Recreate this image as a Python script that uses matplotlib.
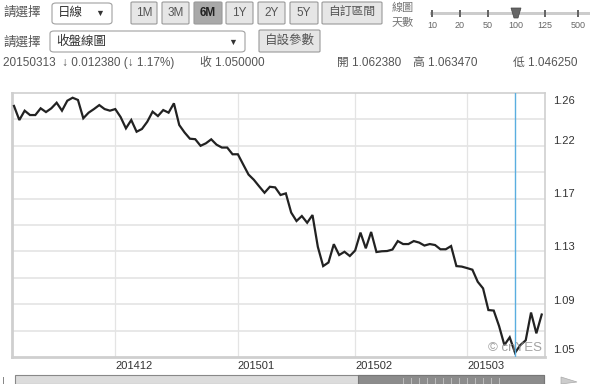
import matplotlib.pyplot as plt
import numpy as np
from matplotlib.patches import FancyBboxPatch, Rectangle, Polygon

plt.rcParams['font.family'] = ['Liberation Sans', 'Noto Sans CJK TC', 'DejaVu Sans']

# daily close, last 100 trading days
close = [1.2477, 1.2364, 1.2439, 1.2404, 1.2404, 1.2458, 1.2428, 1.2458, 1.2503, 1.2439,
         1.2519, 1.2543, 1.2525, 1.2378, 1.2423, 1.2452, 1.2484, 1.2452, 1.2439, 1.2452,
         1.2388, 1.2297, 1.2364, 1.2270, 1.2292, 1.2350, 1.2431, 1.2396, 1.2444, 1.2423,
         1.2498, 1.2324, 1.2264, 1.2214, 1.2210, 1.2157, 1.2177, 1.2209, 1.2166, 1.2143,
         1.2143, 1.2089, 1.2089, 1.2007, 1.1926, 1.1884, 1.1831, 1.1780, 1.1828, 1.1823,
         1.1762, 1.1775, 1.1621, 1.1553, 1.1593, 1.1539, 1.1601, 1.1346, 1.1191, 1.1220,
         1.1367, 1.1280, 1.1306, 1.1272, 1.1316, 1.1460, 1.1334, 1.1465, 1.1304, 1.1310,
         1.1312, 1.1324, 1.1392, 1.1368, 1.1368, 1.1392, 1.1380, 1.1356, 1.1368, 1.1360,
         1.1326, 1.1326, 1.1352, 1.1191, 1.1187, 1.1175, 1.1162, 1.1065, 1.1012, 1.0838,
         1.0834, 1.0710, 1.0557, 1.0619, 1.0495, 1.0557, 1.0595, 1.0818, 1.0651, 1.0802]

month_idx = [19, 42, 64, 85]
month_labels = ['201412', '201501', '201502', '201503']
cursor_idx = 94  # 20150313

ytick_vals = [1.0525, 1.092, 1.135, 1.178, 1.2205, 1.2525]
ytick_labels = ['1.05', '1.09', '1.13', '1.17', '1.22', '1.26']
ylo, yhi = 1.0461, 1.2581

W, H = 600, 384
fig = plt.figure(figsize=(6, 3.84), dpi=100)
fig.patch.set_facecolor('white')


def fx(x):
    return x / W


def fy(y):
    return 1 - y / H


def box(x0, y0, x1, y1, fc, ec, r=2.5, lw=0.8):
    p = FancyBboxPatch((fx(x0), fy(y1)), fx(x1) - fx(x0), fy(y0) - fy(y1),
                       boxstyle='round,pad=0,rounding_size=%f' % (r / W),
                       transform=fig.transFigure, fc=fc, ec=ec, lw=lw)
    fig.add_artist(p)


def label(x, y, s, size=8.5, color='#555555', ha='left', **kw):
    fig.text(fx(x), fy(y), s, ha=ha, va='center', fontsize=size, color=color, **kw)


# ---- header row 1
label(3, 13, '請選擇', size=9)
box(52, 3, 112, 24, 'white', '#a0a0a0', r=4)
label(58, 13, '日線', color='#333333', size=9)
label(100, 13, '▼', size=6.5, color='#333333', ha='center')
buttons = [('1M', 131, 157), ('3M', 162, 189), ('6M', 194, 222), ('1Y', 226, 253),
           ('2Y', 258, 285), ('5Y', 290, 318), ('自訂區間', 322, 382)]
for name, b0, b1 in buttons:
    on = name == '6M'
    box(b0, 2, b1, 24, '#a9a9a9' if on else '#e6e6e6', '#9a9a9a', r=1.5)
    label((b0 + b1) / 2, 13, name, size=8.5, color='#222222' if on else '#555555',
          ha='center', fontweight='bold' if on else 'normal')

label(392, 8, '線圖', size=8, color='#777777')
label(392, 22, '天數', size=8, color='#777777')
fig.add_artist(Rectangle((fx(430), fy(14.5)), fx(590) - fx(430), 3 / H,
                         transform=fig.transFigure, fc='#cccccc', ec='none'))
for t, tx in zip(['10', '20', '50', '100', '125', '500'], [432, 460, 488, 516, 545, 578]):
    fig.add_artist(Rectangle((fx(tx - 0.8), fy(17)), 1.6 / W, 7 / H,
                             transform=fig.transFigure, fc='#666666', ec='none'))
    label(tx, 26, t, size=6.5, color='#666666', ha='center')
fig.add_artist(Polygon([(fx(511), fy(8)), (fx(521), fy(8)), (fx(518), fy(18)), (fx(514), fy(18))],
                       closed=True, transform=fig.transFigure, fc='#666666', ec='#444444', lw=0.5))

# ---- header row 2
label(3, 43, '請選擇', size=9)
box(50, 31, 245, 52, 'white', '#a0a0a0', r=4)
label(56, 42, '收盤線圖', color='#333333', size=9)
label(233, 42, '▼', size=6.5, color='#333333', ha='center')
box(259, 30, 320, 52, '#e6e6e6', '#9a9a9a', r=1.5)
label(289.5, 41, '自設參數', ha='center', size=9)

# ---- header row 3
label(3, 63, '20150313  ↓ 0.012380 (↓ 1.17%)', size=8.5)
label(200, 63, '收 1.050000', size=8.5)
label(337, 63, '開 1.062380', size=8.5)
label(413, 63, '高 1.063470', size=8.5)
label(513, 63, '低 1.046250', size=8.5)

# ---- main chart
ax = fig.add_axes([fx(12), fy(357), (545 - 12) / W, (357 - 93) / H])
x = np.arange(len(close))
ax.plot(x, close, color='#222222', lw=1.6, solid_joinstyle='miter', zorder=3)
ax.axvline(cursor_idx, color='#5aaee0', lw=1.0, zorder=4)
ax.set_xlim(-0.375, len(close) - 0.38)
ax.set_ylim(ylo, yhi)

ax.set_xticks(month_idx)
ax.set_xticklabels(month_labels, ha='left', fontsize=8, color='#333333')
ax.set_yticks(ytick_vals)
ax.set_yticklabels(ytick_labels, fontsize=8, color='#333333')
ax.set_yticks(np.linspace(ylo, yhi, 11)[1:-1], minor=True)
ax.yaxis.tick_right()
ax.tick_params(axis='both', which='both', length=0)
ax.tick_params(axis='x', pad=3)
ax.tick_params(axis='y', pad=6)
ax.grid(which='major', axis='x', color='#e4e4e4', lw=0.9)
ax.grid(which='minor', axis='y', color='#e4e4e4', lw=1.2)
ax.set_axisbelow(True)
for side, lw in [('left', 2.0), ('bottom', 2.0), ('top', 1.2), ('right', 1.2)]:
    ax.spines[side].set_color('#cfcfcf')
    ax.spines[side].set_linewidth(lw)
ax.text(0.995, 0.012, '© cnYES', transform=ax.transAxes, ha='right', va='bottom',
        fontsize=9.5, color='#8a8a8a', alpha=0.8, zorder=5)

# ---- bottom scroll bar
fig.add_artist(Rectangle((fx(15), fy(384)), fx(544) - fx(15), 9 / H,
                         transform=fig.transFigure, fc='#dcdcdc', ec='#888888', lw=0.8))
fig.add_artist(Rectangle((fx(358), fy(384)), fx(544) - fx(358), 9 / H,
                         transform=fig.transFigure, fc='#8c8c8c', ec='#777777', lw=0.8))
for gx in np.arange(403, 500, 8):
    fig.add_artist(Rectangle((fx(gx), fy(384)), 0.8 / W, 6 / H,
                             transform=fig.transFigure, fc='#bbbbbb', ec='none'))
fig.add_artist(Rectangle((fx(3), fy(384)), 1 / W, 7 / H,
                         transform=fig.transFigure, fc='#888888', ec='none'))
fig.add_artist(Polygon([(fx(561), fy(377)), (fx(577), fy(382)), (fx(561), fy(384))],
                       closed=True, transform=fig.transFigure, fc='#cccccc', ec='#aaaaaa', lw=0.5))

fig.savefig('out.png', dpi=100)
